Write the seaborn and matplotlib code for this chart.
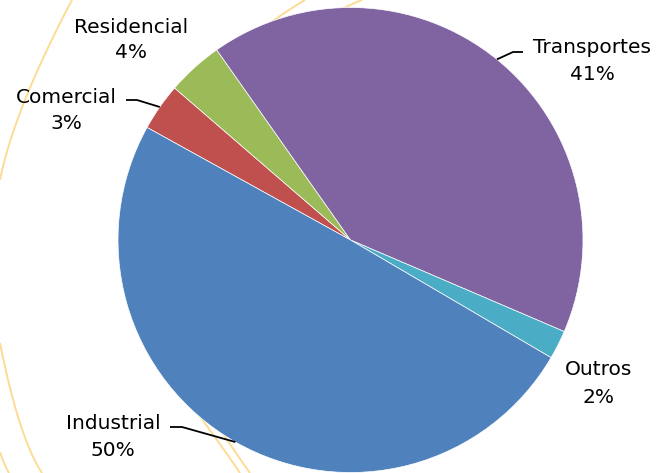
import numpy as np
import matplotlib
matplotlib.use("Agg")
import matplotlib.pyplot as plt
import seaborn as sns

# ---- data ----
categories = ["Comercial", "Residencial", "Transportes", "Outros", "Industrial"]
values = [3.3, 3.9, 41.2, 2.0, 49.6]
colors = ["#C0504D", "#9BBB59", "#8064A2", "#4BACC6", "#4F81BD"]

sns.set_theme(style="white")
plt.rcParams['font.family'] = ['DejaVu Sans']

W, H = 657, 473
fig = plt.figure(figsize=(W / 100, H / 100), dpi=100)
ax = fig.add_axes([0, 0, 1, 1])


def P(x, y):
    """pixel (top-left origin) -> data coords"""
    return x, H - y


# decorative background arcs (template ornament)
def quad(p0, p1, p2, n=60):
    t = np.linspace(0, 1, n)[:, None]
    p0, p1, p2 = (np.array(P(*p)) for p in (p0, p1, p2))
    c = (4 * p1 - p0 - p2) / 2
    pts = (1 - t) ** 2 * p0 + 2 * (1 - t) * t * c + t ** 2 * p2
    return pts[:, 0], pts[:, 1]


arcs = [
    ((72, 0), (25, 100), (0, 180)),
    ((0, 343), (20, 423), (42, 473)),
    ((0, 452), (4, 463), (9, 473)),
    ((180, 390), (212, 433), (240, 473)),
    ((222, 432), (236, 453), (250, 473)),
    ((258, 32), (283, 14), (305, 0)),
    ((335, 13), (348, 6), (362, 0)),
]
for a in arcs:
    xs, ys = quad(*a)
    ax.plot(xs, ys, color="#FCDC94", lw=1.4, zorder=0.5, solid_capstyle="butt")

cx, cy, R = 350.5, 240, 232.5
center = P(cx, cy)
wedges, _ = ax.pie(values, colors=colors, startangle=151.05, counterclock=False,
                   center=center, radius=R,
                   wedgeprops=dict(edgecolor="white", linewidth=0.5))

ax.set_xlim(0, W)
ax.set_ylim(0, H)
ax.set_aspect("equal")
ax.axis("off")

total = sum(values)
label_pos = {
    "Residencial": (131, 33, 58),
    "Comercial": (66, 103, 129),
    "Transportes": (592, 53, 80),
    "Outros": (599, 375, 403),
    "Industrial": (113, 429, 456),
}
leaders = {
    "Comercial": [(126, 100), (137, 100)],
    "Transportes": [(523, 52), (513, 52)],
    "Industrial": [(170, 427), (182, 427)],
}
fs = 14.5
for w, cat, v in zip(wedges, categories, values):
    x, y1, y2 = label_pos[cat]
    ax.text(*P(x, y1), cat, ha="center", va="baseline", fontsize=fs, color="black")
    ax.text(*P(x, y2), f"{round(v / total * 100)}%", ha="center", va="baseline",
            fontsize=fs, color="black")
    if cat in leaders:
        mid = np.deg2rad((w.theta1 + w.theta2) / 2)
        ex, ey = center[0] + R * np.cos(mid), center[1] + R * np.sin(mid)
        pts = [P(*p) for p in leaders[cat]] + [(ex, ey)]
        ax.plot([p[0] for p in pts], [p[1] for p in pts], color="black", lw=1.3,
                zorder=3, solid_capstyle="butt")

fig.savefig("out.png", dpi=100, facecolor="white")
